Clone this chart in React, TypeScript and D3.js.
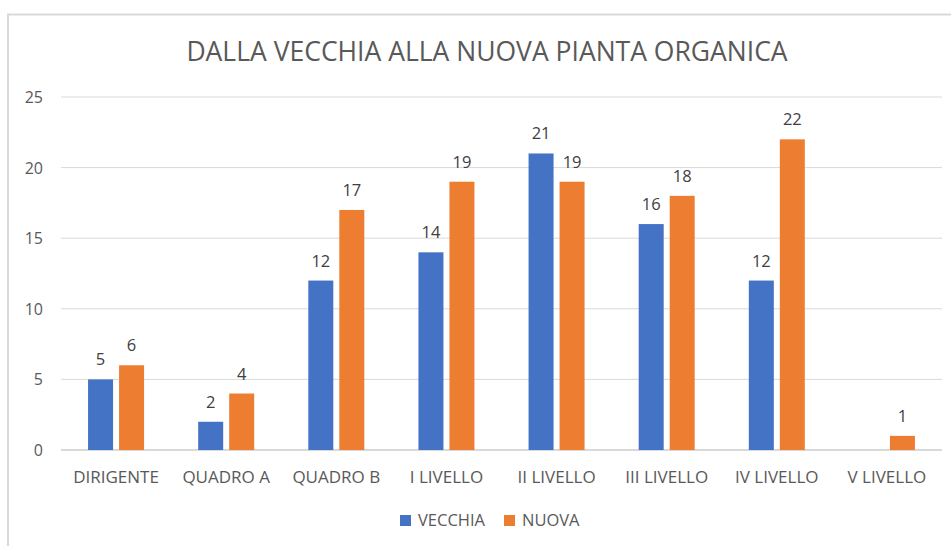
import React, { useEffect, useRef } from "react";
import * as d3 from "d3";

const categories = ["DIRIGENTE", "QUADRO A", "QUADRO B", "I LIVELLO", "II LIVELLO", "III LIVELLO", "IV LIVELLO", "V LIVELLO"];
const vecchia = [5, 2, 12, 14, 21, 16, 12, null];
const nuova = [6, 4, 17, 19, 19, 18, 22, 1];
const seriesNames = ["VECCHIA", "NUOVA"];
const colors = ["#4472C4", "#ED7D31"];
const yTicks = [0, 5, 10, 15, 20, 25];

const W = 951;
const H = 546;
const FONT = "'Open Sans', 'Noto Sans', sans-serif";

export default function App() {
  const ref = useRef<SVGSVGElement>(null);

  useEffect(() => {
    const svg = d3.select(ref.current);
    svg.selectAll("*").remove();

    const left = 61, right = 942, top = 97, bottom = 450;

    // chart frame
    svg.append("rect").attr("width", W).attr("height", H).attr("fill", "#fff");
    svg.append("path")
      .attr("d", `M8,${H} L8,14.5 L${W},14.5`)
      .attr("fill", "none").attr("stroke", "#d9d9d9").attr("stroke-width", 2);

    // title
    svg.append("text")
      .attr("x", 487).attr("y", 61)
      .attr("text-anchor", "middle")
      .style("font-family", FONT).style("font-size", "26.5px")
      .attr("fill", "#595959")
      .text("DALLA VECCHIA ALLA NUOVA PIANTA ORGANICA");

    const x = d3.scaleBand().domain(categories).range([left, right]);
    const y = d3.scaleLinear().domain([0, 25]).range([bottom, top]);

    // grid
    svg.append("g").selectAll("line")
      .data(yTicks)
      .join("line")
      .attr("x1", left).attr("x2", right)
      .attr("y1", d => y(d)).attr("y2", d => y(d))
      .attr("stroke", "#d9d9d9").attr("stroke-width", d => (d === 0 ? 2 : 1));

    svg.append("g").selectAll("text")
      .data(yTicks)
      .join("text")
      .attr("x", 43).attr("y", d => y(d) + 6)
      .attr("text-anchor", "end")
      .style("font-family", FONT).style("font-size", "16px")
      .attr("fill", "#595959")
      .text(d => d);

    // category labels
    svg.append("g").selectAll("text")
      .data(categories)
      .join("text")
      .attr("x", d => x(d)! + x.bandwidth() / 2)
      .attr("y", 483)
      .attr("text-anchor", "middle")
      .style("font-family", FONT).style("font-size", "17px")
      .attr("fill", "#595959")
      .text(d => d);

    const barW = 25, gap = 6;
    [vecchia, nuova].forEach((vals, si) => {
      const offset = si === 0 ? -gap / 2 - barW : gap / 2;
      const items = categories.map((c, i) => ({ c, v: vals[i] })).filter(d => d.v != null);
      const g = svg.append("g");
      g.selectAll("rect")
        .data(items)
        .join("rect")
        .attr("x", d => x(d.c)! + x.bandwidth() / 2 + offset)
        .attr("y", d => y(d.v as number))
        .attr("width", barW)
        .attr("height", d => y(0) - y(d.v as number))
        .attr("fill", colors[si]);
      g.selectAll("text")
        .data(items)
        .join("text")
        .attr("x", d => x(d.c)! + x.bandwidth() / 2 + offset + barW / 2)
        .attr("y", d => y(d.v as number) - 14)
        .attr("text-anchor", "middle")
        .style("font-family", FONT).style("font-size", "16.5px")
        .attr("fill", "#404040")
        .text(d => d.v as number);
    });

    // legend
    const legendX = [400, 504];
    seriesNames.forEach((name, i) => {
      svg.append("rect")
        .attr("x", legendX[i]).attr("y", 515)
        .attr("width", 11).attr("height", 11)
        .attr("fill", colors[i]);
      svg.append("text")
        .attr("x", legendX[i] + 18).attr("y", 526)
        .style("font-family", FONT).style("font-size", "16.5px")
        .attr("fill", "#595959")
        .text(name);
    });
  }, []);

  return (
    <svg ref={ref} width={W} height={H}
      style={{ position: "absolute", left: 0, top: 0, display: "block" }} />
  );
}
